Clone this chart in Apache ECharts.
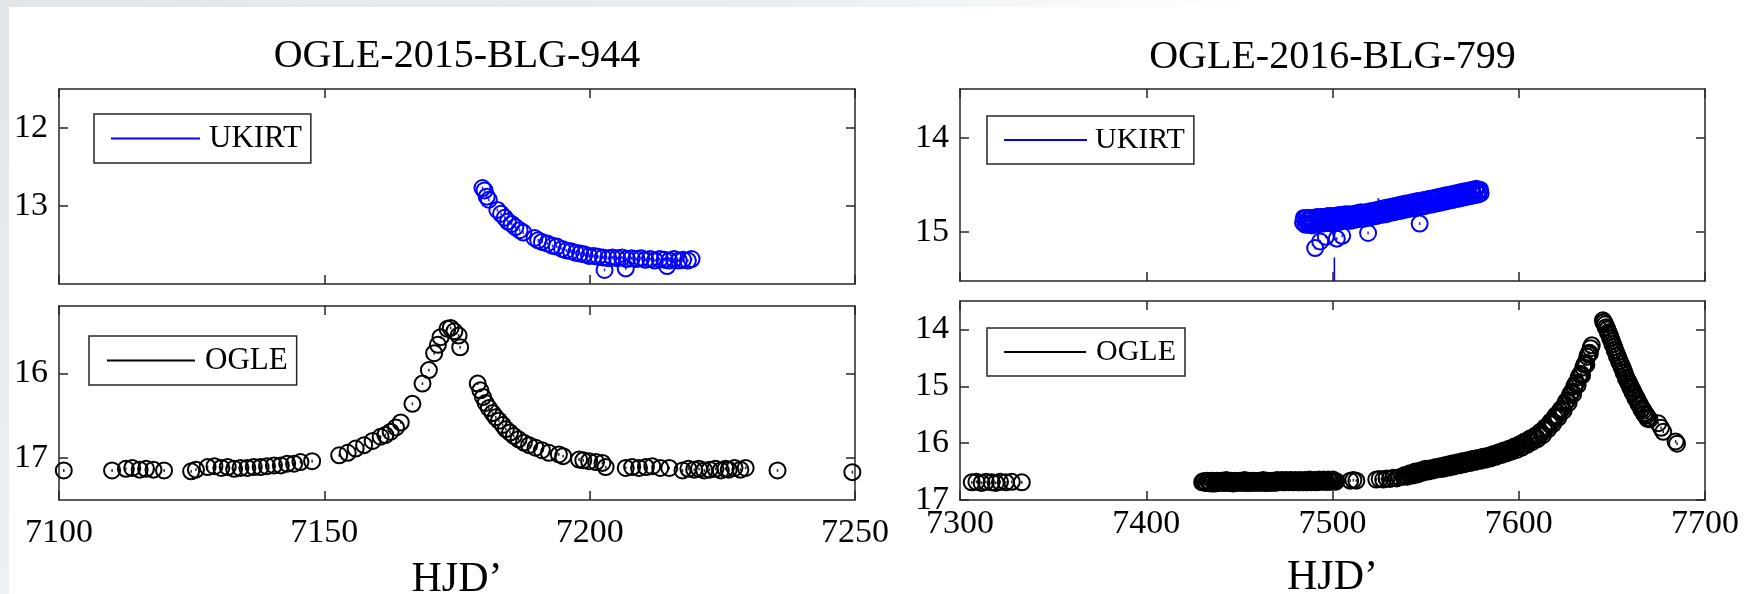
<!DOCTYPE html>
<html>
<head>
<meta charset="utf-8">
<script src="https://cdn.jsdelivr.net/npm/echarts@6/dist/echarts.min.js"></script>
<style>
  html, body { margin: 0; padding: 0; background: #ffffff; }
  #chart { width: 1744px; height: 594px; }
</style>
</head>
<body>
<div id="chart"></div>
<script>
// ---- Light curves: [HJD', magnitude] ----

// OGLE-2015-BLG-944, UKIRT photometry
const ukirt944 = [
  [7179.8,12.77],[7180.2,12.80],[7180.6,12.88],[7181.0,12.92],[7182.6,13.05],[7183.3,13.10],
  [7184.0,13.15],[7184.6,13.20],[7185.3,13.23],[7186.0,13.27],[7186.8,13.31],[7187.5,13.34],
  [7189.6,13.41],[7190.3,13.44],[7191.0,13.46],[7192.0,13.48],[7193.0,13.51],[7193.8,13.52],
  [7194.8,13.55],[7195.6,13.57],[7196.5,13.58],[7197.4,13.60],[7198.2,13.61],[7199.0,13.62],
  [7199.9,13.64],[7200.8,13.64],[7201.6,13.65],[7202.5,13.66],[7202.8,13.82],[7203.5,13.67],
  [7204.3,13.66],[7205.2,13.67],[7206.1,13.66],[7206.8,13.80],[7207.0,13.68],[7207.9,13.67],
  [7208.8,13.68],[7209.7,13.67],[7210.5,13.69],[7211.4,13.68],[7212.3,13.70],[7213.2,13.68],
  [7214.1,13.69],[7214.6,13.77],[7215.0,13.70],[7215.9,13.68],[7216.8,13.70],[7217.6,13.69],
  [7218.5,13.70],[7219.2,13.68]
];

// OGLE-2015-BLG-944, OGLE photometry
const ogle944 = [
  [7100.9,17.15],[7110.0,17.15],[7112.6,17.13],[7113.8,17.12],[7115.2,17.14],[7116.4,17.13],
  [7117.8,17.14],[7119.8,17.15],[7124.9,17.16],[7125.8,17.14],[7128.0,17.11],[7129.3,17.10],
  [7130.6,17.12],[7131.8,17.11],[7133.0,17.13],[7134.2,17.12],[7135.5,17.12],[7136.7,17.11],
  [7138.0,17.11],[7139.2,17.10],[7140.5,17.09],[7141.8,17.09],[7143.0,17.07],[7144.3,17.07],
  [7145.5,17.05],[7147.7,17.04],[7152.8,16.97],[7154.4,16.94],[7155.9,16.89],[7157.5,16.85],
  [7159.1,16.80],[7160.6,16.75],[7161.5,16.73],[7162.5,16.69],[7163.5,16.64],[7164.4,16.58],
  [7166.6,16.36],[7168.5,16.12],[7169.7,15.96],[7170.7,15.76],[7171.4,15.66],[7171.9,15.57],
  [7173.2,15.47],[7173.8,15.46],[7174.5,15.50],[7175.3,15.55],[7175.6,15.69],[7178.9,16.12],
  [7179.4,16.20],[7179.9,16.28],[7180.4,16.35],[7181.0,16.41],[7181.7,16.47],[7182.3,16.52],
  [7182.9,16.56],[7183.6,16.61],[7184.2,16.66],[7185.0,16.70],[7185.7,16.74],[7186.6,16.78],
  [7187.6,16.82],[7188.6,16.85],[7189.8,16.88],[7191.0,16.91],[7192.3,16.94],[7194.2,16.96],
  [7195.0,16.98],[7198.0,17.02],[7198.8,17.03],[7199.9,17.04],[7201.2,17.05],[7202.4,17.06],
  [7203.0,17.11],[7206.8,17.12],[7208.0,17.11],[7209.3,17.12],[7210.6,17.11],[7211.8,17.10],
  [7213.3,17.12],[7215.0,17.12],[7217.5,17.15],[7218.6,17.13],[7219.7,17.14],[7220.6,17.13],
  [7221.6,17.15],[7222.6,17.14],[7223.7,17.13],[7224.7,17.15],[7225.6,17.13],[7226.2,17.14],
  [7227.3,17.12],[7228.4,17.14],[7229.4,17.12],[7235.4,17.15],[7249.5,17.17]
];

// OGLE-2016-BLG-799, UKIRT photometry
const ukirt799 = [
  [7484.2,14.90],[7485.0,14.86],[7485.7,14.92],[7486.5,14.88],[7487.3,14.91],[7488.1,14.87],
  [7488.9,14.93],[7489.6,14.89],[7490.7,15.17],[7491.1,14.86],[7491.8,14.92],[7492.6,14.88],
  [7493.4,15.10],[7494.1,14.85],[7494.8,14.90],[7495.6,14.87],[7496.4,15.05],[7497.1,14.84],
  [7497.9,14.89],[7498.7,14.86],[7499.5,14.91],[7500.3,14.85],[7501.2,14.88],[7502.3,15.07],
  [7502.8,14.84],[7503.7,14.89],[7504.6,14.85],[7505.2,15.04],[7505.4,14.87],[7506.3,14.83],
  [7507.2,14.86],[7508.2,14.82],[7509.2,14.86],[7510.3,14.83],[7511.2,14.85],[7512.4,14.81],
  [7513.5,14.84],[7514.6,14.86],[7515.8,14.82],[7517.0,14.85],[7518.2,14.81],[7519.1,15.01],
  [7519.4,14.84],[7520.7,14.80],[7521.8,14.83],[7523.0,14.79],[7524.1,14.82],[7525.2,14.77],
  [7526.4,14.80],[7527.5,14.78],[7528.7,14.81],[7529.8,14.76],[7531.0,14.79],[7532.2,14.75],
  [7533.3,14.78],[7534.5,14.74],[7535.7,14.77],[7536.8,14.73],[7538.0,14.76],[7539.2,14.72],
  [7540.3,14.75],[7541.5,14.71],[7542.7,14.74],[7543.8,14.70],[7545.0,14.73],[7546.2,14.69],
  [7546.8,14.91],[7547.4,14.72],[7548.6,14.68],[7549.7,14.71],[7550.9,14.67],[7552.1,14.70],
  [7553.3,14.66],[7554.4,14.69],[7555.6,14.65],[7556.8,14.68],[7557.9,14.64],[7559.1,14.67],
  [7560.3,14.63],[7561.4,14.66],[7562.6,14.62],[7563.8,14.65],[7564.9,14.61],[7566.1,14.64],
  [7567.3,14.60],[7568.4,14.63],[7569.6,14.59],[7570.8,14.62],[7571.9,14.58],[7573.1,14.61],
  [7574.3,14.57],[7575.4,14.59],[7576.6,14.55],[7577.7,14.58],[7578.9,14.56],[7579.5,14.59],
  [7484.6,14.85],[7485.4,14.92],[7486.1,14.85],[7486.9,14.92],[7487.7,14.85],[7488.5,14.92],
  [7489.3,14.85],[7490.0,14.91],[7491.5,14.84],[7492.2,14.91],[7493.0,14.84],[7493.8,14.91],
  [7494.5,14.84],[7495.2,14.91],[7496.0,14.84],[7496.8,14.90],[7497.5,14.83],[7498.3,14.90],
  [7499.1,14.83],[7499.9,14.90],[7500.7,14.83],[7501.7,14.90],[7503.2,14.82],[7504.1,14.89],
  [7505.0,14.82],[7505.8,14.88],[7506.7,14.81],[7507.7,14.88],[7508.7,14.81],[7509.7,14.88],
  [7510.7,14.81],[7511.8,14.87],[7512.9,14.80],[7514.0,14.86],[7515.2,14.79],[7516.4,14.86],
  [7517.6,14.79],[7518.8,14.85],[7520.0,14.78],[7521.2,14.84],[7522.4,14.77],[7523.5,14.83],
  [7524.7,14.76],[7525.8,14.82],[7527.0,14.75],[7528.1,14.81],[7529.3,14.74],[7530.4,14.80],
  [7531.6,14.73],[7532.8,14.79],[7533.9,14.72],[7535.1,14.78],[7536.3,14.71],[7537.4,14.77],
  [7538.6,14.70],[7539.8,14.76],[7540.9,14.69],[7542.1,14.75],[7543.3,14.68],[7544.4,14.74],
  [7545.6,14.67],[7547.9,14.73],[7548.9,14.66],[7550.3,14.72],[7551.5,14.65],[7552.7,14.71],
  [7553.8,14.64],[7555.0,14.70],[7556.2,14.63],[7557.4,14.69],[7558.5,14.62],[7559.7,14.68],
  [7560.9,14.61],[7562.0,14.67],[7563.2,14.60],[7564.4,14.66],[7565.5,14.59],[7566.7,14.65],
  [7567.9,14.58],[7569.0,14.64],[7570.2,14.57],[7571.4,14.63],[7572.5,14.56],[7573.7,14.62],
  [7574.9,14.55],[7576.0,14.61],[7577.2,14.54],[7578.3,14.60],[7579.2,14.55]
];

// OGLE-2016-BLG-799, UKIRT points with large error bars: [HJD', upper mag, lower mag]
const ukirt799Err = [
  [7501.0, 15.27, 15.60],
  [7524.6, 14.64, 14.80]
];

// OGLE-2016-BLG-799, OGLE photometry
const ogle799 = [
  [7306.3,16.69],[7308.8,16.68],[7311.6,16.70],[7313.9,16.68],[7317.0,16.69],[7319.2,16.70],
  [7321.5,16.68],[7324.6,16.69],[7327.8,16.68],[7333.2,16.69],
  [7430.0,16.69],[7431.2,16.67],[7432.4,16.70],[7433.7,16.68],[7434.9,16.71],[7436.1,16.68],
  [7437.4,16.70],[7438.6,16.67],[7439.8,16.69],[7441.1,16.68],[7442.3,16.70],[7443.5,16.67],
  [7444.8,16.69],[7446.0,16.68],[7447.2,16.70],[7448.5,16.68],[7449.7,16.69],[7451.0,16.67],
  [7452.2,16.69],[7453.4,16.68],[7454.7,16.70],[7455.9,16.67],[7457.2,16.69],[7458.4,16.68],
  [7459.6,16.69],[7460.9,16.67],[7462.1,16.69],[7463.4,16.68],[7464.6,16.70],[7465.8,16.67],
  [7467.1,16.69],[7468.3,16.68],[7469.6,16.69],[7470.8,16.67],[7472.0,16.68],[7473.3,16.66],
  [7474.5,16.69],[7475.8,16.67],[7477.0,16.68],[7478.3,16.66],[7479.5,16.68],[7480.8,16.67],
  [7482.0,16.69],[7483.3,16.66],[7484.5,16.68],[7485.8,16.67],[7487.0,16.68],[7488.3,16.66],
  [7489.5,16.68],[7490.8,16.67],[7492.0,16.68],[7493.3,16.66],[7494.5,16.67],[7495.8,16.66],
  [7497.0,16.68],[7498.3,16.66],[7499.5,16.67],[7500.8,16.66],[7502.0,16.67],
  [7430.6,16.67],[7431.8,16.70],[7433.0,16.66],[7434.3,16.70],[7435.5,16.66],[7436.8,16.71],
  [7438.0,16.66],[7439.2,16.70],[7440.5,16.66],[7441.7,16.70],[7442.9,16.65],[7444.2,16.70],
  [7445.4,16.66],[7446.6,16.71],[7447.9,16.66],[7449.1,16.70],[7450.4,16.66],[7451.6,16.70],
  [7452.8,16.65],[7454.1,16.70],[7455.3,16.66],[7456.6,16.70],[7457.8,16.66],[7459.0,16.70],
  [7460.3,16.66],[7461.5,16.70],[7462.8,16.65],[7464.0,16.70],[7465.2,16.66],[7466.5,16.70],
  [7467.7,16.66],[7469.0,16.70],[7470.2,16.65],[7471.4,16.69],[7472.7,16.65],[7473.9,16.69],
  [7475.2,16.65],[7476.4,16.69],[7477.7,16.65],[7478.9,16.69],[7480.2,16.65],[7481.4,16.69],
  [7482.7,16.65],[7483.9,16.69],[7485.2,16.65],[7486.4,16.69],[7487.7,16.64],[7488.9,16.69],
  [7490.2,16.65],[7491.4,16.69],[7492.7,16.64],[7493.9,16.68],[7495.2,16.64],[7496.4,16.68],
  [7497.7,16.64],[7498.9,16.68],[7500.2,16.64],[7501.4,16.68],
  [7509.5,16.66],[7511.2,16.65],[7512.8,16.66],
  [7523.5,16.64],[7525.3,16.63],[7527.2,16.64],[7529.0,16.62],[7530.8,16.63],[7532.6,16.61],
  [7534.4,16.62],[7536.0,16.60],
  [7538.0,16.59],[7539.4,16.58],[7540.8,16.55],[7542.2,16.56],[7543.6,16.53],[7545.0,16.53],
  [7546.4,16.50],[7547.8,16.50],[7549.2,16.47],[7550.6,16.48],[7552.0,16.46],[7553.4,16.47],
  [7554.8,16.44],[7556.2,16.45],[7557.6,16.42],[7559.0,16.43],[7560.4,16.40],[7561.8,16.41],
  [7563.2,16.38],[7564.6,16.39],[7566.0,16.36],[7567.4,16.37],[7568.8,16.34],[7570.2,16.35],
  [7571.6,16.32],[7573.0,16.33],[7574.4,16.30],[7575.8,16.31],[7577.2,16.28],[7578.6,16.29],
  [7580.0,16.26],[7581.4,16.27],[7582.8,16.24],[7584.2,16.25],[7585.6,16.22],[7587.0,16.22],
  [7588.4,16.19],[7589.8,16.19],[7591.2,16.16],[7592.6,16.16],[7594.0,16.12],[7595.4,16.13],
  [7596.8,16.09],[7598.2,16.09],[7599.6,16.05],[7601.0,16.05],[7602.4,16.01],[7603.8,16.00],
  [7605.2,15.96],[7606.6,15.95],[7608.0,15.91],[7609.4,15.90],[7610.8,15.86],[7612.2,15.83],
  [7613.6,15.77],[7615.0,15.73],[7616.4,15.66],[7617.8,15.63],[7619.2,15.55],[7620.6,15.52],
  [7622.0,15.44],[7623.4,15.40],[7624.8,15.31],[7626.2,15.25],[7627.4,15.16],[7628.6,15.10],
  [7629.8,15.00],[7631.0,14.94],[7632.2,14.84],[7633.4,14.78],[7634.6,14.67],[7635.8,14.59],
  [7636.8,14.48],[7637.8,14.41],[7638.6,14.33],[7639.2,14.28],
  [7538.7,16.56],[7540.1,16.59],[7541.5,16.53],[7542.9,16.57],[7544.3,16.50],[7545.7,16.55],
  [7547.1,16.48],[7548.5,16.52],[7549.9,16.45],[7551.3,16.50],[7552.7,16.44],[7554.1,16.48],
  [7555.5,16.42],[7556.9,16.46],[7558.3,16.40],[7559.7,16.45],[7561.1,16.38],[7562.5,16.43],
  [7563.9,16.36],[7565.3,16.41],[7566.7,16.34],[7568.1,16.39],[7569.5,16.32],[7570.9,16.37],
  [7572.3,16.30],[7573.7,16.35],[7575.1,16.28],[7576.5,16.33],[7577.9,16.26],[7579.3,16.31],
  [7580.7,16.24],[7582.1,16.29],[7583.5,16.22],[7584.9,16.27],[7586.3,16.19],[7587.7,16.24],
  [7589.1,16.16],[7590.5,16.21],[7591.9,16.13],[7593.3,16.18],[7594.7,16.10],[7596.1,16.15],
  [7597.5,16.06],[7598.9,16.12],[7600.3,16.02],[7601.7,16.08],[7603.1,15.97],[7604.5,16.03],
  [7605.9,15.92],[7607.3,15.98],[7608.7,15.87],[7610.1,15.93],[7611.5,15.80],[7612.9,15.86],
  [7614.3,15.72],[7615.7,15.76],[7617.1,15.62],[7618.5,15.66],[7619.9,15.51],[7621.3,15.55],
  [7622.7,15.40],[7624.1,15.43],[7625.5,15.26],[7626.8,15.29],[7628.0,15.12],[7629.2,15.14],
  [7630.4,14.96],[7631.6,14.98],[7632.8,14.80],[7634.0,14.81],[7635.2,14.62],[7636.3,14.62],
  [7637.3,14.44],[7638.2,14.42],
  [7645.2,13.84],[7645.8,13.87],[7646.4,13.91],[7647.0,13.96],[7647.6,14.00],[7648.2,14.05],
  [7648.8,14.10],[7649.4,14.15],[7650.0,14.20],[7650.6,14.26],[7651.2,14.31],[7651.8,14.36],
  [7652.4,14.41],[7653.0,14.46],[7653.6,14.51],[7654.2,14.56],[7654.8,14.61],[7655.4,14.65],
  [7656.0,14.70],[7656.6,14.75],[7657.2,14.80],[7657.8,14.85],[7658.4,14.89],[7659.0,14.93],
  [7659.6,14.97],[7660.2,15.01],[7660.8,15.05],[7661.4,15.09],[7662.2,15.14],[7663.0,15.19],
  [7663.8,15.24],[7664.6,15.29],[7665.4,15.34],[7666.2,15.39],[7667.0,15.43],[7667.8,15.47],
  [7668.6,15.51],[7669.4,15.55],[7670.2,15.58],[7674.9,15.65],[7676.4,15.73],[7677.6,15.80],
  [7684.2,15.97],[7685.0,16.01],
  [7645.5,13.88],[7646.7,13.97],[7647.9,14.06],[7649.1,14.16],[7650.3,14.26],[7651.5,14.37],
  [7652.7,14.47],[7653.9,14.57],[7655.1,14.66],[7656.3,14.76],[7657.5,14.86],[7658.7,14.94],
  [7659.9,15.03],[7661.1,15.11],[7662.6,15.21],[7664.2,15.31],[7665.8,15.41],[7667.4,15.49],
  [7669.0,15.57]
];

// ---- Axis settings ----
const eventTitles = ['OGLE-2015-BLG-944', 'OGLE-2016-BLG-799'];
const xLabelName = 'HJD\u2019';
const xRange944 = { min: 7100, max: 7250, interval: 50 };
const xRange799 = { min: 7300, max: 7700, interval: 100 };
const yTicksUkirt944 = [12, 13];
const yTicksOgle944 = [16, 17];
const yTicksUkirt799 = [14, 15];
const yTicksOgle799 = [14, 15, 16, 17];

// ---- Styling ----
const SERIF = '"Liberation Serif", "Times New Roman", "DejaVu Serif", serif';
const AXIS_COLOR = '#262626';
const BLUE = '#0000ff';
const BLACK = '#000000';

const chart = echarts.init(document.getElementById('chart'), null, { renderer: 'canvas' });

const axisLineStyle = { show: true, onZero: false, lineStyle: { color: AXIS_COLOR, width: 1.5 } };
const tickStyle = { show: true, inside: true, length: 9, lineStyle: { color: AXIS_COLOR, width: 1.5 } };
const plainNumber = v => String(v);

function makeX(gridIndex, range, position, opts) {
  opts = opts || {};
  return {
    type: 'value', gridIndex, position,
    min: range.min, max: range.max, interval: range.interval,
    axisLine: axisLineStyle,
    axisTick: tickStyle,
    splitLine: { show: false },
    axisLabel: {
      show: !!opts.labels, formatter: plainNumber, margin: opts.margin || 8,
      fontFamily: SERIF, fontSize: 34, color: BLACK, hideOverlap: false
    },
    name: opts.name || '', nameLocation: 'middle', nameGap: opts.nameGap || 10,
    nameMoveOverlap: false,
    nameTextStyle: { fontFamily: SERIF, fontSize: opts.nameSize || 40, color: BLACK },
    silent: true
  };
}

function makeY(gridIndex, min, max, ticks, position, labels) {
  return {
    type: 'value', gridIndex, position, inverse: true,
    min, max,
    axisLine: axisLineStyle,
    axisTick: Object.assign({}, tickStyle, { customValues: ticks }),
    splitLine: { show: false },
    axisLabel: {
      show: labels, customValues: ticks, formatter: plainNumber, margin: 11,
      fontFamily: SERIF, fontSize: 34, color: BLACK, hideOverlap: false
    },
    silent: true
  };
}

const xAxis = [
  // left column
  makeX(0, xRange944, 'bottom'),
  makeX(0, xRange944, 'top', { name: eventTitles[0], nameGap: 13, nameSize: 40 }),
  makeX(1, xRange944, 'bottom', { labels: true, margin: 16, name: xLabelName, nameGap: 59, nameSize: 42 }),
  makeX(1, xRange944, 'top'),
  // right column
  makeX(2, xRange799, 'bottom'),
  makeX(2, xRange799, 'top', { name: eventTitles[1], nameGap: 12, nameSize: 40 }),
  makeX(3, xRange799, 'bottom', { labels: true, margin: 7, name: xLabelName, nameGap: 57, nameSize: 42 }),
  makeX(3, xRange799, 'top')
];

const yAxis = [
  makeY(0, 11.5, 14, yTicksUkirt944, 'left', true),
  makeY(0, 11.5, 14, yTicksUkirt944, 'right', false),
  makeY(1, 15.2, 17.5, yTicksOgle944, 'left', true),
  makeY(1, 15.2, 17.5, yTicksOgle944, 'right', false),
  makeY(2, 13.48, 15.52, yTicksUkirt799, 'left', true),
  makeY(2, 13.48, 15.52, yTicksUkirt799, 'right', false),
  makeY(3, 13.5, 17, yTicksOgle799, 'left', true),
  makeY(3, 13.5, 17, yTicksOgle799, 'right', false)
];

// open circles for each photometry point
function circles(name, data, axisIdx, color) {
  return {
    name, type: 'scatter', data,
    xAxisIndex: axisIdx.x, yAxisIndex: axisIdx.y,
    symbol: 'circle', symbolSize: 16,
    itemStyle: { color: 'rgba(0,0,0,0)', borderColor: color, borderWidth: 2, opacity: 1 },
    emphasis: { disabled: true }, animation: false, silent: true, z: 3
  };
}
// small photometric error marks at each point centre
function centres(data, axisIdx, color) {
  return {
    type: 'scatter', data,
    xAxisIndex: axisIdx.x, yAxisIndex: axisIdx.y,
    symbol: 'rect', symbolSize: [1.5, 2.8],
    itemStyle: { color, opacity: 0.85 },
    emphasis: { disabled: true }, animation: false, silent: true, z: 2
  };
}

const series = [
  circles('UKIRT', ukirt944, { x: 0, y: 0 }, BLUE),
  centres(ukirt944, { x: 0, y: 0 }, BLUE),
  circles('OGLE', ogle944, { x: 2, y: 2 }, BLACK),
  centres(ogle944, { x: 2, y: 2 }, BLACK),
  circles('UKIRT', ukirt799, { x: 4, y: 4 }, BLUE),
  centres(ukirt799, { x: 4, y: 4 }, BLUE),
  {
    type: 'custom', xAxisIndex: 4, yAxisIndex: 4, data: ukirt799Err, clip: true,
    silent: true, animation: false,
    renderItem(params, api) {
      const a = api.coord([api.value(0), api.value(1)]);
      const b = api.coord([api.value(0), api.value(2)]);
      return {
        type: 'line',
        shape: { x1: a[0], y1: a[1], x2: b[0], y2: b[1] },
        style: { stroke: BLUE, lineWidth: 1.6 }
      };
    }
  },
  circles('OGLE', ogle799, { x: 6, y: 6 }, BLACK),
  centres(ogle799, { x: 6, y: 6 }, BLACK)
];

function legendBox(name, color, left, top, lineWidth, padLeft, textPad, fontSize) {
  return {
    data: [{ name, icon: 'rect', itemStyle: { color, borderWidth: 0 } }],
    left, top, orient: 'horizontal',
    itemWidth: lineWidth, itemHeight: 2,
    padding: [9, 9, 9, padLeft],
    borderColor: AXIS_COLOR, borderWidth: 1.5, borderRadius: 0,
    backgroundColor: '#ffffff',
    itemStyle: { color, borderWidth: 0 },
    textStyle: { fontFamily: SERIF, fontSize, color: BLACK, lineHeight: 30, padding: [0, 0, 0, textPad] },
    selectedMode: false
  };
}

const option = {
  backgroundColor: '#ffffff',
  animation: false,
  grid: [
    { left: 59, top: 89, width: 796, height: 195, containLabel: false, outerBoundsMode: 'none' },
    { left: 59, top: 306, width: 796, height: 194, containLabel: false, outerBoundsMode: 'none' },
    { left: 960, top: 89, width: 745, height: 192, containLabel: false, outerBoundsMode: 'none' },
    { left: 960, top: 301, width: 745, height: 199, containLabel: false, outerBoundsMode: 'none' }
  ],
  xAxis, yAxis, series,
  legend: [
    legendBox('UKIRT', BLUE, 94, 114, 89, 17, 4, 31),
    legendBox('OGLE', BLACK, 89, 336, 88, 18, 5, 31),
    legendBox('UKIRT', BLUE, 987, 116, 83, 17, 3, 30),
    legendBox('OGLE', BLACK, 987, 328, 82, 17, 5, 30)
  ],
  graphic: [
    {
      type: 'rect', left: 0, top: 0, z: -10, silent: true,
      shape: { width: 1744, height: 7 },
      style: {
        fill: new echarts.graphic.LinearGradient(0, 0, 1, 0, [
          { offset: 0, color: '#e1e6ea' },
          { offset: 0.45, color: '#eaeef1' },
          { offset: 0.72, color: '#ffffff' }
        ])
      }
    },
    {
      type: 'rect', left: 0, top: 0, z: -10, silent: true,
      shape: { width: 9, height: 594 },
      style: {
        fill: new echarts.graphic.LinearGradient(0, 0, 0, 1, [
          { offset: 0, color: '#dfe5e9' },
          { offset: 1, color: '#edf1f3' }
        ])
      }
    }
  ]
};

chart.setOption(option);
</script>
</body>
</html>
